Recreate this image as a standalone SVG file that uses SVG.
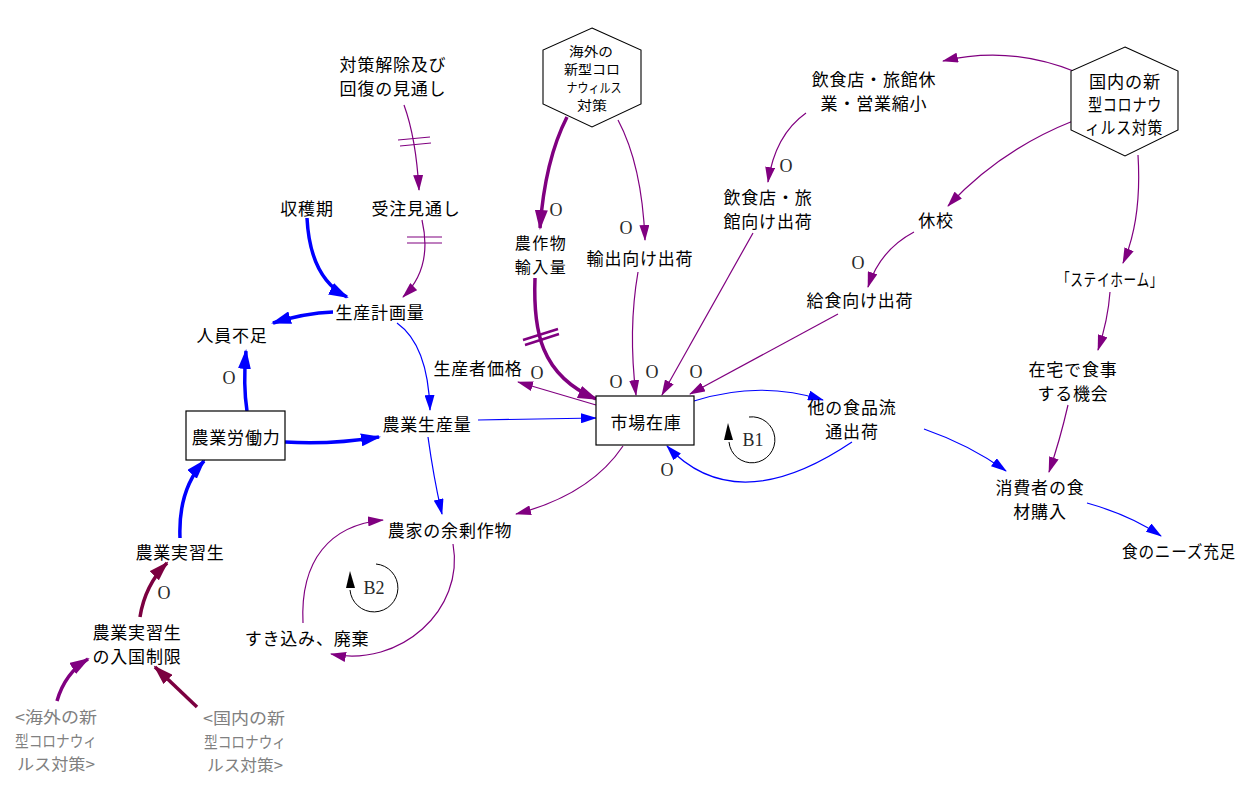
<svg xmlns="http://www.w3.org/2000/svg" width="1254" height="788" viewBox="0 0 1254 788">
<defs>
<style>
text{font-family:"Noto Sans CJK JP","Noto Sans CJK SC",sans-serif;font-size:17px;fill:#000;text-anchor:middle;dominant-baseline:central;letter-spacing:0.8px}
.g{fill:#808080;font-size:16px;letter-spacing:0}
.h{font-size:13px;letter-spacing:0}
.s16{font-size:16px;letter-spacing:1.5px}
.o{font-family:"Liberation Serif",serif;font-size:18px;fill:#2a2a2a;letter-spacing:0}
.lp{font-family:"Liberation Serif",serif;font-size:18px;fill:#2a2a2a;letter-spacing:0}
.box{fill:#fff;stroke:#000;stroke-width:1.2}
.hex{fill:#fff;stroke:#000;stroke-width:1.1}
.c{fill:none}
.bt{stroke:#0000ff;stroke-width:1.2;marker-end:url(#mbt)}
.bk{stroke:#0000ff;stroke-width:3.5;marker-end:url(#mbk)}
.pt{stroke:#800080;stroke-width:1.2;marker-end:url(#mpt)}
.pk{stroke:#800080;stroke-width:3.5;marker-end:url(#mpk)}
.mk{stroke:#7b0040;stroke-width:3.5;marker-end:url(#mmk)}
.hp{stroke:#800080;stroke-width:1.2;fill:none}
.hk{stroke:#800080;stroke-width:2.5;fill:none}
.loop{fill:none;stroke:#000;stroke-width:1}
</style>
<marker id="mbt" viewBox="0 0 16 10" refX="15" refY="5" markerWidth="16" markerHeight="10" markerUnits="userSpaceOnUse" orient="auto"><path d="M0,0 L16,5 L0,10 z" fill="#0000ff"/></marker>
<marker id="mpt" viewBox="0 0 16 10" refX="15" refY="5" markerWidth="16" markerHeight="10" markerUnits="userSpaceOnUse" orient="auto"><path d="M0,0 L16,5 L0,10 z" fill="#800080"/></marker>
<marker id="mbk" viewBox="0 0 20 13" refX="18" refY="6.5" markerWidth="20" markerHeight="13" markerUnits="userSpaceOnUse" orient="auto"><path d="M0,0 L20,6.5 L0,13 z" fill="#0000ff"/></marker>
<marker id="mpk" viewBox="0 0 20 13" refX="18" refY="6.5" markerWidth="20" markerHeight="13" markerUnits="userSpaceOnUse" orient="auto"><path d="M0,0 L20,6.5 L0,13 z" fill="#800080"/></marker>
<marker id="mmk" viewBox="0 0 20 13" refX="18" refY="6.5" markerWidth="20" markerHeight="13" markerUnits="userSpaceOnUse" orient="auto"><path d="M0,0 L20,6.5 L0,13 z" fill="#7b0040"/></marker>
</defs>
<rect width="1254" height="788" fill="#fff"/>

<g id="connectors" class="c">
<path class="pt" d="M404,105 Q416,138 419,190"/>
<path class="pt" d="M422,220 Q433,268 403,297"/>
<path class="bk" d="M307,218 Q310,278 347,297"/>
<path class="bk" d="M333,312 Q305,313 273,323"/>
<path class="bk" d="M247,411 Q243,385 246,351"/>
<path class="bk" d="M285,442 Q330,445 379,437"/>
<path class="bt" d="M397,323 Q428,345 430,410"/>
<path class="bt" d="M478,420 L596,418"/>
<path class="bt" d="M428,437 Q434,480 442,514"/>
<path class="pt" d="M596,405 L518,382"/>
<path class="pk" d="M535,278 C533,330 540,375 596,399"/>
<path class="pk" d="M567,117 Q545,160 540,228"/>
<path class="pt" d="M618,120 Q642,165 645,240"/>
<path class="pt" d="M638,272 Q628,330 636,395"/>
<path class="pt" d="M753,233 L662,395"/>
<path class="pt" d="M838,314 L690,394"/>
<path class="pt" d="M1076,72 Q1010,45 943,61"/>
<path class="pt" d="M806,113 Q775,135 768,182"/>
<path class="pt" d="M1073,121 Q1000,150 948,206"/>
<path class="pt" d="M914,232 Q880,250 868,287"/>
<path class="pt" d="M1138,155 Q1142,220 1123,263"/>
<path class="pt" d="M1110,292 Q1108,320 1098,350"/>
<path class="pt" d="M1068,405 Q1060,440 1049,472"/>
<path class="bt" d="M924,429 Q970,445 1006,471"/>
<path class="bt" d="M1087,503 Q1130,515 1161,536"/>
<path class="bt" d="M694,401 Q760,380 823,400"/>
<path class="bt" d="M852,442 Q736,520 667,446"/>
<path class="pt" d="M623,446 Q590,495 516,514"/>
<path class="pt" d="M453,544 C465,610 400,668 331,654"/>
<path class="pt" d="M303,623 C300,560 330,525 383,520"/>
<path class="bk" d="M180,538 Q178,490 204,461"/>
<path class="mk" d="M140,617 Q145,585 167,563"/>
<path class="pk" d="M57,701 Q65,673 88,659"/>
<path class="mk" d="M197,707 L155,667"/>
<path class="hp" d="M398,140 L430,137 M400,146 L431,143"/>
<path class="hp" d="M407,237 L442,237 M407,243 L442,243"/>
<path class="hk" d="M523,340 L558,329 M525,345 L559,334"/>
<text class="o" x="556" y="210">O</text>
<text class="o" x="626" y="228">O</text>
<text class="o" x="786" y="166">O</text>
<text class="o" x="858" y="263">O</text>
<text class="o" x="229" y="378">O</text>
<text class="o" x="537" y="373">O</text>
<text class="o" x="616" y="382">O</text>
<text class="o" x="652" y="372">O</text>
<text class="o" x="696" y="372">O</text>
<text class="o" x="667" y="470">O</text>
<text class="o" x="164" y="593">O</text>
</g>

<g id="loop-B1">
<path class="loop" d="M749,417 A23,23 0 1 1 729,442"/>
<path d="M728,423 L724,440 L733,440 Z" fill="#000"/>
<text class="lp" x="753" y="440">B1</text>
</g>
<g id="loop-B2">
<path class="loop" d="M376,564 A24,24 0 1 1 350,590"/>
<path d="M350,571 L346,588 L355,588 Z" fill="#000"/>
<text class="lp" x="374" y="588">B2</text>
</g>

<g id="n-kaigai">
<polygon class="hex" points="592,28 641,50 641,104 592,127 543,104 543,50"/>
<text class="h" x="591" y="50" textLength="44" lengthAdjust="spacingAndGlyphs">海外の</text>
<text class="h" x="592" y="68" textLength="56" lengthAdjust="spacingAndGlyphs">新型コロ</text>
<text class="h" x="594" y="86" textLength="55" lengthAdjust="spacingAndGlyphs">ナウィルス</text>
<text class="h" x="592" y="104" textLength="30" lengthAdjust="spacingAndGlyphs">対策</text>
</g>
<g id="n-kokunai">
<polygon class="hex" points="1125,47 1178,71 1178,130 1125,156 1071,130 1071,71"/>
<text x="1125" y="80" textLength="72" lengthAdjust="spacingAndGlyphs">国内の新</text>
<text x="1125" y="103" textLength="74" lengthAdjust="spacingAndGlyphs">型コロナウ</text>
<text x="1124" y="126" textLength="78" lengthAdjust="spacingAndGlyphs">ィルス対策</text>
</g>
<g id="n-taisaku-kaijo"><text x="393" y="63">対策解除及び</text><text x="393" y="87">回復の見通し</text></g>
<g id="n-juchu"><text x="416" y="207">受注見通し</text></g>
<g id="n-shukaku"><text x="307" y="207">収穫期</text></g>
<g id="n-keikaku"><text x="380" y="311">生産計画量</text></g>
<g id="n-jinin"><text x="232" y="334">人員不足</text></g>
<g id="n-rodoryoku"><rect class="box" x="186" y="411" width="99" height="49"/><text x="236" y="436">農業労働力</text></g>
<g id="n-seisanryo"><text x="427" y="423">農業生産量</text></g>
<g id="n-kakaku"><text x="478" y="367">生産者価格</text></g>
<g id="n-zaiko"><rect class="box" x="596" y="396" width="98" height="49"/><text x="646" y="421">市場在庫</text></g>
<g id="n-yunyu"><text class="s16" x="541" y="242">農作物</text><text class="s16" x="541" y="266">輸入量</text></g>
<g id="n-yushutsu"><text x="640" y="257">輸出向け出荷</text></g>
<g id="n-kyugyo"><text x="874" y="78">飲食店・旅館休</text><text x="874" y="102">業・営業縮小</text></g>
<g id="n-inshoku"><text x="768" y="196">飲食店・旅</text><text x="768" y="220">館向け出荷</text></g>
<g id="n-kyuko"><text x="936" y="219">休校</text></g>
<g id="n-kyushoku"><text x="860" y="299">給食向け出荷</text></g>
<g id="n-stayhome"><text x="1110" y="278" textLength="106" lengthAdjust="spacingAndGlyphs">「ステイホーム」</text></g>
<g id="n-zaitaku"><text x="1073" y="368">在宅で食事</text><text x="1073" y="392">する機会</text></g>
<g id="n-tano"><text x="852" y="406">他の食品流</text><text x="852" y="430">通出荷</text></g>
<g id="n-shohisha"><text x="1040" y="486">消費者の食</text><text x="1040" y="510">材購入</text></g>
<g id="n-needs"><text x="1179" y="550" textLength="114" lengthAdjust="spacingAndGlyphs">食のニーズ充足</text></g>
<g id="n-yojo"><text x="450" y="529">農家の余剰作物</text></g>
<g id="n-sukikomi"><text x="307" y="637">すき込み、廃棄</text></g>
<g id="n-jisshusei"><text x="180" y="551">農業実習生</text></g>
<g id="n-nyukoku"><text x="137" y="631">農業実習生</text><text x="137" y="655">の入国制限</text></g>
<g id="n-kaigai-shadow">
<text class="g" x="56" y="716" textLength="82" lengthAdjust="spacingAndGlyphs">&lt;海外の新</text>
<text class="g" x="56" y="740" textLength="82" lengthAdjust="spacingAndGlyphs">型コロナウィ</text>
<text class="g" x="56" y="763" textLength="78" lengthAdjust="spacingAndGlyphs">ルス対策&gt;</text>
</g>
<g id="n-kokunai-shadow">
<text class="g" x="244" y="717" textLength="82" lengthAdjust="spacingAndGlyphs">&lt;国内の新</text>
<text class="g" x="245" y="741" textLength="82" lengthAdjust="spacingAndGlyphs">型コロナウィ</text>
<text class="g" x="245" y="764" textLength="76" lengthAdjust="spacingAndGlyphs">ルス対策&gt;</text>
</g>
</svg>
